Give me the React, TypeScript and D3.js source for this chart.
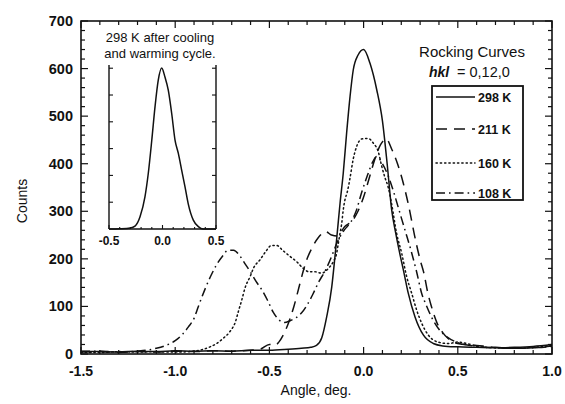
import React from "react";
import * as d3 from "d3";

// ---------- data ----------
const angles298 = [-1.5,-1.4,-1.3,-1.2,-1.1,-1.0,-0.9,-0.8,-0.7,-0.6,-0.5,-0.4,-0.33,-0.28,-0.25,-0.222,-0.196,-0.169,-0.152,-0.14,-0.125,-0.108,-0.09,-0.072,-0.055,-0.03,0,0.034,0.07,0.1,0.125,0.149,0.17,0.19,0.211,0.237,0.273,0.317,0.37,0.42,0.5,0.6,0.7,0.8,0.9,1.0];
const counts298 = [6,5,4,6,5,7,6,7,6,8,8,10,12,14,18,34,78,141,205,254,317,380,465,541,597,628,640,611,555,490,400,303,255,215,177,128,78,40,22,17,15,14,13,14,16,20];

const angles211 = [-1.5,-1.4,-1.3,-1.2,-1.1,-1.0,-0.9,-0.8,-0.7,-0.6,-0.55,-0.5,-0.47,-0.45,-0.42,-0.39,-0.37,-0.34,-0.32,-0.3,-0.275,-0.24,-0.2,-0.17,-0.14,-0.1,-0.06,-0.03,0,0.03,0.06,0.09,0.12,0.15,0.18,0.21,0.24,0.27,0.3,0.32,0.34,0.36,0.39,0.42,0.45,0.5,0.6,0.7,0.8,0.9,1.0];
const counts211 = [4,5,3,5,4,6,5,7,6,8,10,20,18,25,45,75,100,145,175,200,222,245,257,250,248,268,280,300,330,370,410,440,452,430,400,360,310,250,198,170,130,100,65,45,32,22,18,14,12,13,17];

const angles160 = [-1.5,-1.4,-1.3,-1.2,-1.1,-1.0,-0.9,-0.85,-0.815,-0.78,-0.745,-0.71,-0.68,-0.665,-0.647,-0.63,-0.6,-0.585,-0.55,-0.52,-0.49,-0.46,-0.43,-0.39,-0.355,-0.32,-0.29,-0.26,-0.222,-0.187,-0.161,-0.143,-0.134,-0.125,-0.116,-0.108,-0.099,-0.087,-0.072,-0.056,-0.037,-0.01,0.025,0.052,0.078,0.096,0.114,0.131,0.149,0.175,0.202,0.229,0.255,0.282,0.308,0.343,0.388,0.45,0.5,0.55,0.6,0.7,0.8,0.9,1.0];
const counts160 = [4,3,5,4,5,4,6,10,15,22,33,47,68,89,113,138,165,180,198,215,228,228,218,205,194,180,173,173,170,180,194,212,233,254,275,303,324,340,370,408,436,452,453,443,425,395,370,350,315,254,212,162,128,92,65,40,26,22,25,22,16,13,12,14,18];

const angles108 = [-1.5,-1.4,-1.3,-1.2,-1.15,-1.1,-1.05,-1.0,-0.96,-0.93,-0.9,-0.877,-0.84,-0.81,-0.78,-0.75,-0.72,-0.69,-0.66,-0.63,-0.6,-0.57,-0.54,-0.51,-0.48,-0.45,-0.42,-0.39,-0.36,-0.33,-0.3,-0.27,-0.24,-0.2,-0.17,-0.14,-0.1,-0.07,-0.04,-0.01,0.02,0.05,0.07,0.1,0.13,0.16,0.19,0.22,0.25,0.28,0.31,0.33,0.36,0.4,0.45,0.5,0.6,0.7,0.8,0.9,1.0];
const counts108 = [5,6,4,6,8,12,18,28,42,57,75,100,138,165,188,205,218,218,208,190,172,152,135,113,88,72,66,70,76,86,103,125,150,178,205,235,262,276,300,340,375,405,415,400,375,340,300,260,220,175,125,105,78,52,34,24,16,13,12,13,16];

const insetAngles = [-0.5,-0.4,-0.3,-0.257,-0.21,-0.164,-0.133,-0.1,-0.07,-0.04,-0.007,0.023,0.054,0.086,0.117,0.148,0.179,0.21,0.24,0.288,0.335,0.38,0.5];
const insetCounts = [0,1,4,11,46,120,207,332,456,555,601,567,518,431,332,282,220,158,95,33,9,0,0];

const xTickValues = [-1.5,-1.0,-0.5,0.0,0.5,1.0];
const yTickValues = [0,100,200,300,400,500,600,700];
const insetXTickValues = [-0.5,0.0,0.5];
const insetYTickValues = [100,200,300,400,500,600];

const legendLabels = ["298 K","211 K","160 K","108 K"];

// ---------- layout ----------
const W = 565, H = 404;
const font = "'Liberation Sans', Arial, Helvetica, sans-serif";

export default function App() {
  const x = d3.scaleLinear().domain([-1.5, 1.0]).range([81, 552]);
  const y = d3.scaleLinear().domain([0, 700]).range([354, 21]);
  const ix = d3.scaleLinear().domain([-0.5, 0.5]).range([109, 216]);
  const iy = d3.scaleLinear().domain([0, 612]).range([229, 65]);

  const mk = (xs: number[], ys: number[], sx: any, sy: any) =>
    d3.line<number>().x((_, i) => sx(xs[i])).y((_, i) => sy(ys[i])).curve(d3.curveMonotoneX)(xs) || "";

  const series = [
    { a: angles298, c: counts298, dash: "none" },
    { a: angles211, c: counts211, dash: "11,7" },
    { a: angles160, c: counts160, dash: "1.3,3" },
    { a: angles108, c: counts108, dash: "9,4,1.6,4" },
  ];

  const xMinor = d3.range(-15, 11).map((k) => k / 10);
  const yMinor = d3.range(0, 36).map((k) => k * 20);
  const ixMinor = d3.range(-5, 6).map((k) => k / 10);

  const [L, R, T, B] = [81, 552, 21, 354];
  const stroke = "#111";

  return (
    <svg width={W} height={H} style={{ position: "absolute", left: 0, top: 0, background: "#fff" }} fontFamily={font}>
      {/* frame */}
      <rect x={L} y={T} width={R - L} height={B - T} fill="none" stroke={stroke} strokeWidth={1.6} />
      {/* x ticks bottom & top */}
      {xMinor.map((v, i) => {
        const major = Math.abs(v * 2 - Math.round(v * 2)) < 1e-6;
        const len = major ? 7 : 4;
        return (
          <g key={"xt" + i}>
            <line x1={x(v)} x2={x(v)} y1={B} y2={B - len} stroke={stroke} strokeWidth={1.2} />
            <line x1={x(v)} x2={x(v)} y1={T} y2={T + len} stroke={stroke} strokeWidth={1.2} />
          </g>
        );
      })}
      {yMinor.map((v, i) => {
        const major = v % 100 === 0;
        const len = major ? 7 : 4;
        return (
          <g key={"yt" + i}>
            <line x1={L} x2={L + len} y1={y(v)} y2={y(v)} stroke={stroke} strokeWidth={1.2} />
            <line x1={R} x2={R - len} y1={y(v)} y2={y(v)} stroke={stroke} strokeWidth={1.2} />
          </g>
        );
      })}
      {/* tick labels */}
      {xTickValues.map((v) => (
        <text key={"xl" + v} x={x(v)} y={376} textAnchor="middle" fontSize={14} fontWeight="bold" fill={stroke}>
          {v.toFixed(1)}
        </text>
      ))}
      {yTickValues.map((v) => (
        <text key={"yl" + v} x={73} y={y(v) + 5} textAnchor="end" fontSize={14.5} fontWeight="bold" fill={stroke}>
          {String(v)}
        </text>
      ))}
      <text x={316} y={395} textAnchor="middle" fontSize={14} fill={stroke}>Angle, deg.</text>
      <text transform="translate(27,201) rotate(-90)" textAnchor="middle" fontSize={14} fill={stroke}>Counts</text>

      {/* curves */}
      {series.map((s, i) => (
        <path key={"s" + i} d={mk(s.a, s.c, x, y)} fill="none" stroke={stroke} strokeWidth={1.5}
          strokeDasharray={s.dash} strokeLinecap={i === 2 ? "round" : "butt"} />
      ))}

      {/* inset */}
      <line x1={ix(-0.5)} x2={ix(-0.5)} y1={iy(612)} y2={iy(0)} stroke={stroke} strokeWidth={1.4} />
      <line x1={ix(0.5)} x2={ix(0.5)} y1={iy(612)} y2={iy(0)} stroke={stroke} strokeWidth={1.4} />
      <line x1={ix(-0.5)} x2={ix(0.5)} y1={iy(0)} y2={iy(0)} stroke={stroke} strokeWidth={1.4} />
      {insetYTickValues.map((v) => (
        <g key={"iyt" + v}>
          <line x1={ix(-0.5)} x2={ix(-0.5) + 4} y1={iy(v)} y2={iy(v)} stroke={stroke} strokeWidth={1.1} />
          <line x1={ix(0.5)} x2={ix(0.5) - 4} y1={iy(v)} y2={iy(v)} stroke={stroke} strokeWidth={1.1} />
        </g>
      ))}
      {ixMinor.map((v, i) => (
        <line key={"ixt" + i} x1={ix(v)} x2={ix(v)} y1={iy(0)} y2={iy(0) - (Math.abs(v * 2 - Math.round(v * 2)) < 1e-6 ? 4 : 2)} stroke={stroke} strokeWidth={1.1} />
      ))}
      {insetXTickValues.map((v) => (
        <text key={"ixl" + v} x={ix(v)} y={245} textAnchor="middle" fontSize={12} fontWeight="bold" fill={stroke}>
          {v.toFixed(1)}
        </text>
      ))}
      <path d={mk(insetAngles, insetCounts, ix, iy)} fill="none" stroke={stroke} strokeWidth={1.5} />
      <text x={160} y={41.5} textAnchor="middle" fontSize={13} fill={stroke}>298 K after cooling</text>
      <text x={160} y={57.5} textAnchor="middle" fontSize={13} fill={stroke}>and warming cycle.</text>

      {/* legend */}
      <text x={472} y={57} textAnchor="middle" fontSize={15} fill={stroke}>Rocking Curves</text>
      <text x={429} y={77} fontSize={14} fontWeight="bold" fontStyle="italic" fill={stroke}>hkl</text>
      <text x={457} y={77} fontSize={14.5} fill={stroke}>= 0,12,0</text>
      <rect x={432} y={86} width={91} height={114} fill="#fff" stroke={stroke} strokeWidth={1.8} />
      {legendLabels.map((lab, i) => {
        const ly = [97, 129, 163, 193][i];
        return (
          <g key={"lg" + i}>
            <line x1={436} x2={475} y1={ly} y2={ly} stroke={stroke} strokeWidth={1.5}
              strokeDasharray={series[i].dash} strokeLinecap={i === 2 ? "round" : "butt"} />
            <text x={478} y={ly + 4.5} fontSize={12.5} fontWeight="bold" fill={stroke}>{lab}</text>
          </g>
        );
      })}
    </svg>
  );
}
